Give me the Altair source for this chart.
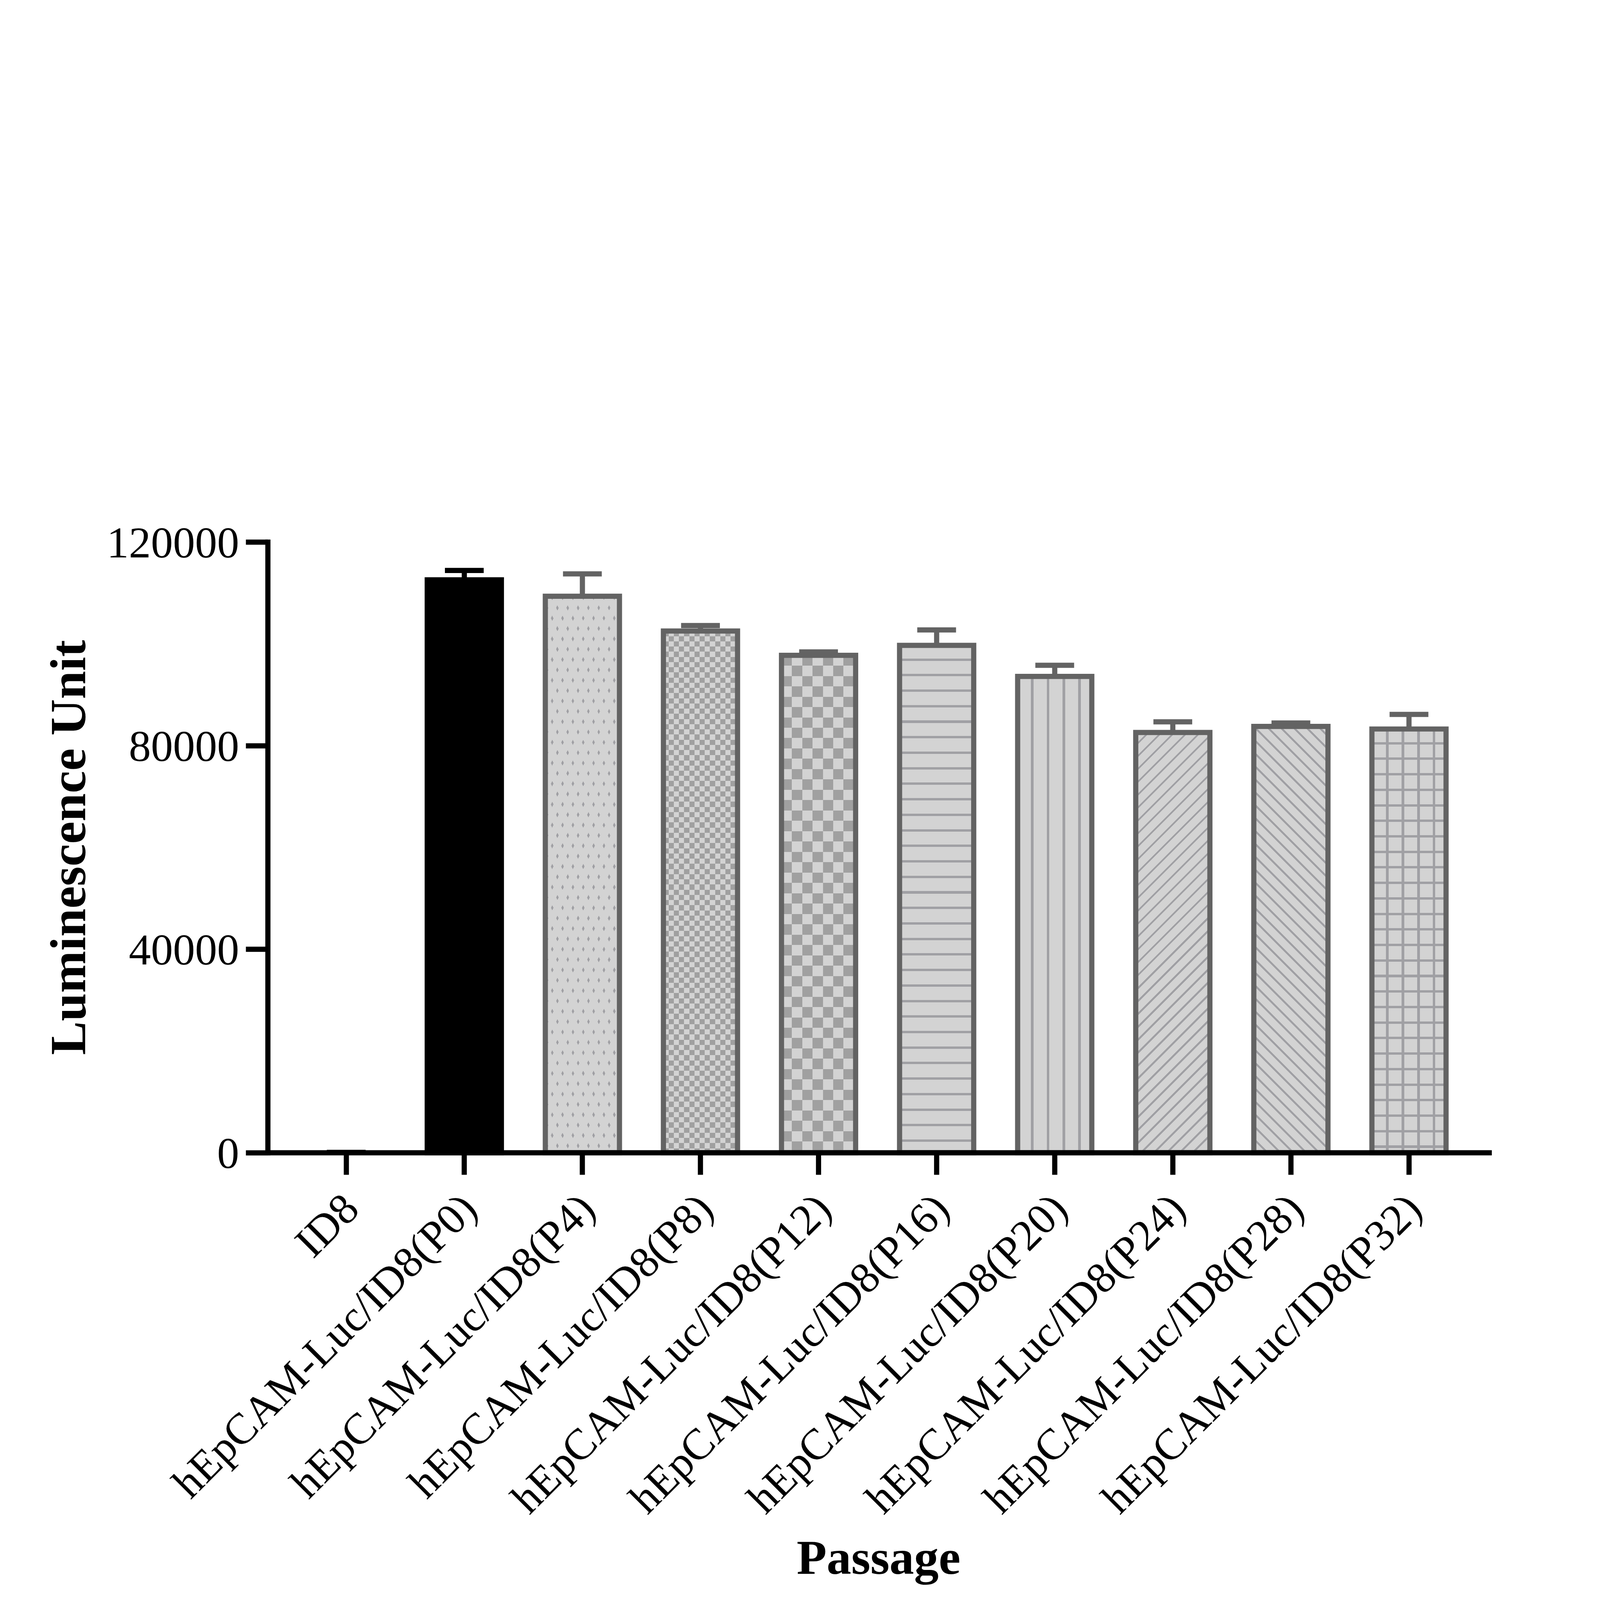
import math
import altair as alt
import pandas as pd

# ---------------- data ----------------
categories = ["ID8", "hEpCAM-Luc/ID8(P0)", "hEpCAM-Luc/ID8(P4)", "hEpCAM-Luc/ID8(P8)",
              "hEpCAM-Luc/ID8(P12)", "hEpCAM-Luc/ID8(P16)", "hEpCAM-Luc/ID8(P20)",
              "hEpCAM-Luc/ID8(P24)", "hEpCAM-Luc/ID8(P28)", "hEpCAM-Luc/ID8(P32)"]
means = [40, 112570, 109350, 102510, 97740, 99690, 93590, 82580, 83770, 83260]
sds = [30, 1850, 4400, 1090, 670, 3040, 2190, 2100, 670, 2875]
y_ticks = [0, 40000, 80000, 120000]

df = pd.DataFrame({"cat": categories, "mean": means, "sd": sds})

# ---------------- geometry / style ----------------
PLOT_W = 5667
PLOT_H = 2833.5
YMAX = 120000
PAD_IN = 0.372
PAD_OUT = 0.3575
STEP = PLOT_W / (len(categories) - PAD_IN + 2 * PAD_OUT)
BAR_W = STEP * (1 - PAD_IN)

LIGHT = "#d3d3d3"
LINE = "#a0a0a4"
CLEAR = "rgba(0,0,0,0)"
EDGE = "#636363"
FONT = "Liberation Serif"


def stripe_stops(fmin, fmax, phase, period, lw, c_line, c_bg):
    F = fmax - fmin
    out = [(0.0, c_bg)]
    k0 = math.floor((fmin - phase - lw) / period)
    k1 = math.ceil((fmax - phase + lw) / period)
    for k in range(k0, k1 + 1):
        c = phase + k * period
        a = max(c - lw / 2, fmin)
        b = min(c + lw / 2, fmax)
        if b <= a:
            continue
        ta = round((a - fmin) / F, 6)
        tb = round((b - fmin) / F, 6)
        out += [(ta, c_bg), (ta, c_line), (tb, c_line), (tb, c_bg)]
    out.append((1.0, c_bg))
    return [alt.GradientStop(offset=o, color=c) for o, c in out]


def grad(alpha, beta, w, h, phase, period, lw, c_line, c_bg):
    """Stripes of constant alpha*X + beta*Y (pixels from the bar's top-left)."""
    corners = [0.0, alpha * w, beta * h, alpha * w + beta * h]
    fmin, fmax = min(corners), max(corners)
    F = fmax - fmin
    p = alpha * w / F
    q = beta * h / F
    r = -fmin / F
    n2 = p * p + q * q
    x1 = -r * p / n2
    y1 = -r * q / n2
    x2 = x1 + p / n2
    y2 = y1 + q / n2
    return alt.LinearGradient(
        gradient="linear",
        stops=stripe_stops(fmin, fmax, phase, period, lw, c_line, c_bg),
        x1=round(x1, 6), y1=round(y1, 6), x2=round(x2, 6), y2=round(y2, 6),
    )


xscale = alt.Scale(domain=categories, paddingInner=PAD_IN, paddingOuter=PAD_OUT, align=0.49)
yscale = alt.Scale(domain=[0, YMAX], nice=False, zero=True)

xaxis = alt.Axis(
    title="Passage", labelAngle=-45, labelAlign="right", labelBaseline="top",
    labelOffset=-44, labelPadding=57, labelFont=FONT, labelFontSize=203,
    labelColor="black", labelLimit=4000, labelOverlap=False, labelFlush=False,
    tickSize=102, tickWidth=24, tickColor="black",
    domainWidth=24, domainColor="black", domainCap="square",
    titleFont=FONT, titleFontSize=228, titleFontWeight="bold", titleColor="black",
    titleX=PLOT_W / 2, titleY=1954, titleAlign="center", titleBaseline="alphabetic",
    titleAngle=0, grid=False, zindex=1,
)
yaxis = alt.Axis(
    title="Luminescence Unit", values=y_ticks, format="d",
    labelFont=FONT, labelFontSize=205, labelColor="black", labelPadding=31,
    labelLimit=2000, labelOffset=8,
    tickSize=102, tickWidth=24, tickColor="black",
    domainWidth=24, domainColor="black", domainCap="square",
    titleFont=FONT, titleFontSize=235, titleFontWeight="bold", titleColor="black",
    titleX=-919, titleY=PLOT_H / 2, titleAngle=270, titleAlign="center",
    titleBaseline="middle", grid=False, zindex=1,
)

X = alt.X("cat:N", sort=categories, scale=xscale, axis=xaxis)

base = alt.Chart(df).transform_calculate(top="datum.mean + datum.sd")


def one(cat):
    return base.transform_filter(alt.datum.cat == cat)


def bar(cat, **mark):
    return one(cat).mark_bar(**mark).encode(
        x=X, y=alt.Y("mean:Q", scale=yscale, axis=yaxis))


layers = []
H = {c: m * PLOT_H / YMAX for c, m in zip(categories, means)}
W = BAR_W
S2 = 1 / math.sqrt(2)

# P4: staggered dots (intersection of two diagonal stripe families)
c = categories[2]
layers.append(bar(c, fill=grad(2, -1, W, H[c], 58, 96, 24, LINE, LIGHT)))
layers.append(bar(c, fill=grad(2, 1, W, H[c], 166, 96, 24, CLEAR, LIGHT)))

# P8 & P12: checkerboards (XOR by difference blend, then tone mapping)
for c, cell in [(categories[3], 24), (categories[4], 48)]:
    layers.append(bar(c, fill=grad(1, 0, W, H[c], cell / 2, 2 * cell, cell, "#ffffff", "#000000")))
    layers.append(bar(c, fill=grad(0, 1, W, H[c], cell / 2, 2 * cell, cell, "#ffffff", "#000000"),
                      blend="difference"))
    layers.append(bar(c, fill="#c8c8c8", opacity=0.8))

# P16: horizontal lines
c = categories[5]
layers.append(bar(c, fill=grad(0, 1, W, H[c], 66, 72, 11, LINE, LIGHT)))
# P20: vertical lines
c = categories[6]
layers.append(bar(c, fill=grad(1, 0, W, H[c], 68, 73, 12, LINE, LIGHT)))
# P24: "/" diagonal lines
c = categories[7]
layers.append(bar(c, fill=grad(S2, S2, W, H[c], 0, 42.3, 8.5, LINE, LIGHT)))
# P28: "\" diagonal lines
c = categories[8]
layers.append(bar(c, fill=grad(S2, -S2, W, H[c], 0, 42.3, 8.5, LINE, LIGHT)))
# P32: grid
c = categories[9]
layers.append(bar(c, fill=grad(1, 0, W, H[c], 72, 72, 12, LINE, LIGHT)))
layers.append(bar(c, fill=grad(0, 1, W, H[c], 66, 72, 11, LINE, CLEAR)))

black_cats = [categories[0], categories[1]]
gray_cats = categories[2:]

# outlines of patterned bars
layers.append(
    base.transform_filter(alt.FieldOneOfPredicate(field="cat", oneOf=gray_cats))
    .mark_bar(fill=LIGHT, fillOpacity=0, stroke=EDGE, strokeWidth=24)
    .encode(x=X, y=alt.Y("mean:Q", scale=yscale, axis=yaxis))
)
# black bars
layers.append(bar(categories[0], fill="black"))
layers.append(bar(categories[1], fill="black", stroke="black", strokeWidth=24))

# error bars (upper only)
for cats, col in [(gray_cats, EDGE), (black_cats, "black")]:
    sub = base.transform_filter(alt.FieldOneOfPredicate(field="cat", oneOf=cats))
    layers.append(
        sub.mark_rule(color=col, strokeWidth=24).encode(
            x=X, y=alt.Y("mean:Q", scale=yscale, axis=yaxis), y2="top:Q")
    )
    layers.append(
        sub.mark_tick(color=col, thickness=24, size=180, opacity=1).encode(
            x=X, y=alt.Y("top:Q", scale=yscale, axis=yaxis))
    )

# plot area 5667 x 2833.5 placed at (1236, 346.5) on the page
chart = (
    alt.layer(*layers)
    .properties(
        width=PLOT_W, height=PLOT_H,
        autosize=alt.AutoSizeParams(type="none"),
        padding={"left": 1228, "top": 338.5, "right": 500, "bottom": 2150},
        background="white",
    )
    .configure_view(stroke=None)
)

chart.save("out.html", embed_options={"renderer": "svg", "actions": False})
